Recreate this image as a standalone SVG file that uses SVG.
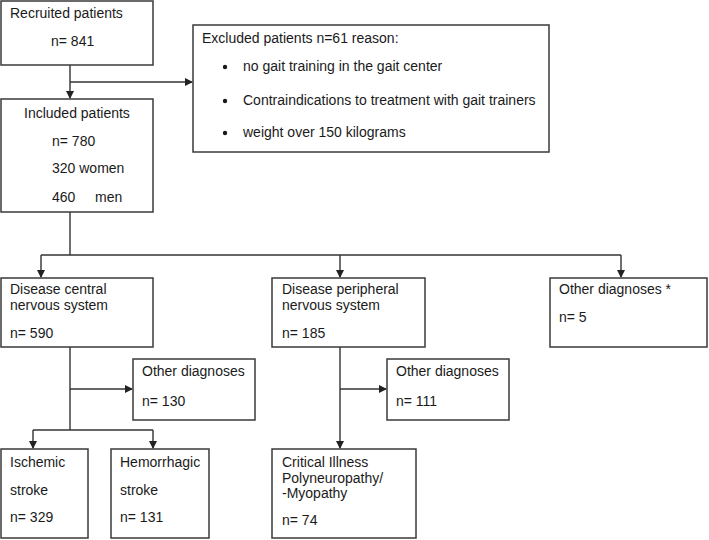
<svg xmlns="http://www.w3.org/2000/svg" width="709" height="540" viewBox="0 0 709 540">
<defs>
<marker id="ah" markerWidth="8" markerHeight="8" refX="7" refY="4" orient="auto" markerUnits="userSpaceOnUse">
<path d="M0,0 L8,4 L0,8 Z" fill="#222"/>
</marker>
<style>
.box{fill:#fff;stroke:#3a3a3a;stroke-width:1.5}
.t{font-family:"Liberation Sans",Arial,sans-serif;font-size:14px;fill:#1a1a1a}
.c{fill:none;stroke:#333;stroke-width:1.4}
</style>
</defs>
<rect width="709" height="540" fill="#fff"/>
<g id="connectors">
<path class="c" d="M70,65 V98" marker-end="url(#ah)"/>
<path class="c" d="M70,82 H192" marker-end="url(#ah)"/>
<path class="c" d="M70,212 V255"/>
<path class="c" d="M41,255 H621"/>
<path class="c" d="M41,255 V277" marker-end="url(#ah)"/>
<path class="c" d="M340,255 V277" marker-end="url(#ah)"/>
<path class="c" d="M621,255 V277" marker-end="url(#ah)"/>
<path class="c" d="M70,347 V430"/>
<path class="c" d="M70,389 H132" marker-end="url(#ah)"/>
<path class="c" d="M33,430 H153"/>
<path class="c" d="M33,430 V448" marker-end="url(#ah)"/>
<path class="c" d="M153,430 V448" marker-end="url(#ah)"/>
<path class="c" d="M340,347 V448" marker-end="url(#ah)"/>
<path class="c" d="M340,389 H386" marker-end="url(#ah)"/>
</g>
<g id="recruited">
<rect class="box" x="1" y="1" width="152" height="64"/>
<text class="t" x="10" y="18">Recruited patients</text>
<text class="t" x="51" y="46">n= 841</text>
</g>
<g id="excluded">
<rect class="box" x="193" y="25" width="356" height="127"/>
<text class="t" x="202" y="43">Excluded patients n=61 reason:</text>
<circle cx="225" cy="67" r="2.2" fill="#1a1a1a"/>
<text class="t" x="243" y="71">no gait training in the gait center</text>
<circle cx="225" cy="101" r="2.2" fill="#1a1a1a"/>
<text class="t" x="243" y="105">Contraindications to treatment with gait trainers</text>
<circle cx="225" cy="133" r="2.2" fill="#1a1a1a"/>
<text class="t" x="243" y="137">weight over 150 kilograms</text>
</g>
<g id="included">
<rect class="box" x="1" y="99" width="152" height="113"/>
<text class="t" x="24" y="118">Included patients</text>
<text class="t" x="52" y="146">n= 780</text>
<text class="t" x="52" y="173">320 women</text>
<text class="t" x="52" y="202">460</text>
<text class="t" x="95" y="202">men</text>
</g>
<g id="cns">
<rect class="box" x="1" y="278" width="152" height="69"/>
<text class="t" x="10" y="294">Disease central</text>
<text class="t" x="10" y="310">nervous system</text>
<text class="t" x="10" y="338">n= 590</text>
</g>
<g id="pns">
<rect class="box" x="272" y="278" width="153" height="69"/>
<text class="t" x="282" y="294">Disease peripheral</text>
<text class="t" x="282" y="310">nervous system</text>
<text class="t" x="282" y="338">n= 185</text>
</g>
<g id="other">
<rect class="box" x="550" y="278" width="157" height="69"/>
<text class="t" x="559" y="294">Other diagnoses *</text>
<text class="t" x="559" y="322">n= 5</text>
</g>
<g id="cns-other">
<rect class="box" x="133" y="359" width="122" height="61"/>
<text class="t" x="142" y="376">Other diagnoses</text>
<text class="t" x="142" y="406">n= 130</text>
</g>
<g id="pns-other">
<rect class="box" x="387" y="359" width="122" height="61"/>
<text class="t" x="396" y="376">Other diagnoses</text>
<text class="t" x="396" y="406">n= 111</text>
</g>
<g id="ischemic">
<rect class="box" x="1" y="449" width="87" height="89"/>
<text class="t" x="10" y="467">Ischemic</text>
<text class="t" x="10" y="495">stroke</text>
<text class="t" x="10" y="522">n= 329</text>
</g>
<g id="hemorrhagic">
<rect class="box" x="111" y="449" width="98" height="89"/>
<text class="t" x="120" y="467">Hemorrhagic</text>
<text class="t" x="120" y="495">stroke</text>
<text class="t" x="120" y="522">n= 131</text>
</g>
<g id="cip">
<rect class="box" x="272" y="449" width="144" height="89"/>
<text class="t" x="282" y="467">Critical Illness</text>
<text class="t" x="282" y="483">Polyneuropathy/</text>
<text class="t" x="282" y="498">-Myopathy</text>
<text class="t" x="282" y="525">n= 74</text>
</g>
</svg>
